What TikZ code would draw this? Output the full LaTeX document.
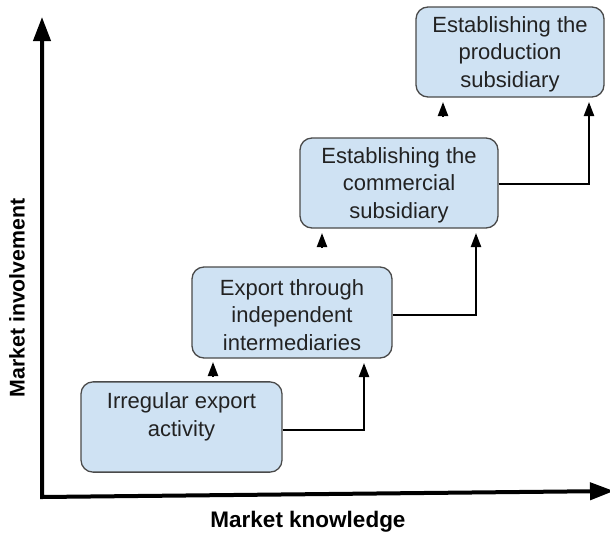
\documentclass[tikz,border=0pt]{standalone}
\usepackage{fontspec}
\setmainfont{Liberation Sans}
\usetikzlibrary{arrows.meta}
\definecolor{boxfill}{HTML}{CFE2F3}
\definecolor{boxline}{HTML}{4A4A4A}
\definecolor{txt}{HTML}{222222}
\newcommand\tallrule[1]{\rule{0pt}{#1}}
\begin{document}
\begin{tikzpicture}[x=1pt,y=-1pt,
  box/.style={draw=boxline, line width=1.3pt, fill=boxfill, rounded corners=12pt,
    align=center, text=txt, font=\fontsize{22}{27.5}\selectfont, inner sep=0pt},
  conn/.style={line width=2.2pt, -{Triangle[length=14pt,width=10pt]}},
  axis/.style={line width=4pt, line join=miter},
  lab/.style={font=\bfseries, text=black}
]
\useasboundingbox (0,0) rectangle (610,536);

% axes
\coordinate (ytop) at (42,17);
\coordinate (orig) at (42,497);
\coordinate (xend) at (614,491);
\draw[axis, {Triangle[length=24pt,width=17pt]}-{Triangle[length=24pt,width=17pt]}] (ytop) -- (orig) -- (xend);

\node[lab, rotate=90, font=\fontsize{21.3}{25}\selectfont\bfseries] (ylab) at (17,298) {Market involvement};
\node[lab, font=\fontsize{22.5}{26}\selectfont\bfseries] (xlab) at (308,522) {Market knowledge};

% boxes
\node[box, minimum width=201pt, minimum height=90pt] (b1) at (181.5,427) {\tallrule{27pt}Irregular export\\activity\\\strut};
\node[box, minimum width=200pt, minimum height=91pt] (b2) at (292,312.5) {\tallrule{21pt}Export through\\independent\\intermediaries};
\node[box, minimum width=198pt, minimum height=90pt] (b3) at (399,183) {\tallrule{20pt}Establishing the\\commercial\\subsidiary};
\node[box, minimum width=188pt, minimum height=90pt] (b4) at (510,52) {\tallrule{20pt}Establishing the\\production\\subsidiary};

% connectors
\coordinate (t1) at (364,363);
\coordinate (t2) at (476,233);
\coordinate (t3) at (589,102);
\draw[conn] ([yshift=-3pt]b1.east) -| (t1);
\draw[conn] ([yshift=-2.5pt]b2.east) -| (t2);
\draw[conn] ([yshift=-1pt]b3.east) -| (t3);

% small arrowheads
\coordinate (s1) at (213,377); \coordinate (e1) at (213,362);
\coordinate (s2) at (322,248); \coordinate (e2) at (322,233);
\coordinate (s3) at (443,117); \coordinate (e3) at (443,102);
\draw[conn] (s1) -- (e1);
\draw[conn] (s2) -- (e2);
\draw[conn] (s3) -- (e3);
\end{tikzpicture}
\end{document}
